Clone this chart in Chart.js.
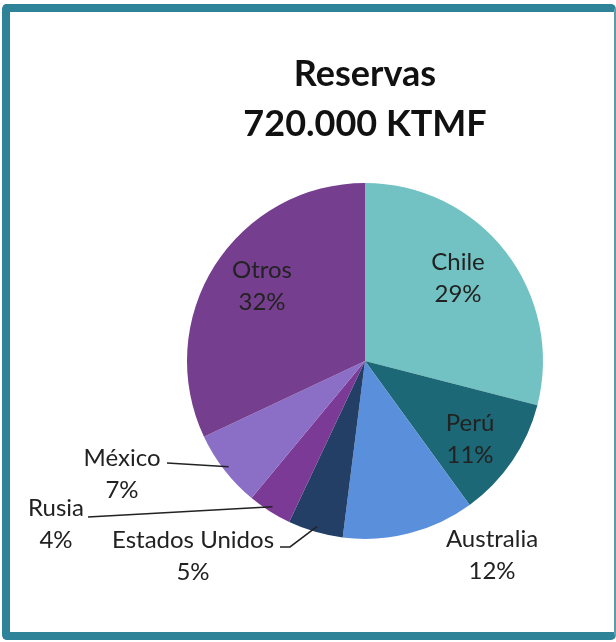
<!DOCTYPE html>
<html>
<head>
<meta charset="utf-8">
<script src="https://cdn.jsdelivr.net/npm/chart.js@4/dist/chart.umd.min.js"></script>
<style>
  html, body { margin: 0; padding: 0; background: #fff; overflow: hidden; }
  #wrap { position: relative; width: 616px; height: 642px; }
  #frame {
    position: absolute; left: 2px; top: 4px; width: 604px; height: 620px;
    border: 8px solid #2E8398; border-right: 2px solid #5E9AAB;
    border-radius: 5px; pointer-events: none;
  }
  canvas { position: absolute; left: 0; top: 0; }
</style>
</head>
<body>
<div id="wrap">
  <canvas id="myChart" width="616" height="642"></canvas>
  <div id="frame"></div>
</div>
<script>
var countries = ['Chile', 'Perú', 'Australia', 'Estados Unidos', 'Rusia', 'México', 'Otros'];
var shares = [29, 11, 12, 5, 4, 7, 32];
var colors = ['#72C2C3', '#1C6876', '#5A8FDC', '#233F66', '#7B3A96', '#8B6FC7', '#763E8E'];

// label centre (offset from pie centre) and optional leader line start / elbow
var labelSpots = [
  { at: [93, -83] },
  { at: [105, 78] },
  { at: [127, 194] },
  { at: [-172, 195], line: [[-85, 186], [-75, 186]] },
  { at: [-309, 163], line: [[-277, 156]] },
  { at: [-243, 113], line: [[-198, 102]] },
  { at: [-103, -75] }
];

var sliceLabels = {
  id: 'sliceLabels',
  afterDatasetsDraw: function (chart) {
    var c = chart.ctx;
    var arcs = chart.getDatasetMeta(0).data;
    var total = shares.reduce(function (a, b) { return a + b; }, 0);
    c.save();
    arcs.forEach(function (arc, i) {
      var p = arc.getProps(['x', 'y', 'startAngle', 'endAngle', 'outerRadius'], true);
      var spot = labelSpots[i];
      if (spot.line) {
        var mid = (p.startAngle + p.endAngle) / 2;
        var r = p.outerRadius * 0.97;
        c.beginPath();
        c.strokeStyle = '#222';
        c.lineWidth = 1.5;
        spot.line.forEach(function (pt, k) {
          if (k === 0) c.moveTo(p.x + pt[0], p.y + pt[1]);
          else c.lineTo(p.x + pt[0], p.y + pt[1]);
        });
        c.lineTo(p.x + Math.cos(mid) * r, p.y + Math.sin(mid) * r);
        c.stroke();
      }
      var pct = Math.round(shares[i] / total * 100) + '%';
      c.fillStyle = '#222';
      c.font = '24px Lato';
      c.textAlign = 'center';
      c.textBaseline = 'middle';
      var lx = p.x + spot.at[0], ly = p.y + spot.at[1];
      c.fillText(countries[i], lx, ly - 16);
      c.fillText(pct, lx, ly + 16);
    });
    c.restore();
  }
};

var ctx = document.getElementById('myChart').getContext('2d');
var myChart = new Chart(ctx, {
  type: 'pie',
  data: {
    labels: countries,
    datasets: [{
      data: shares,
      backgroundColor: colors,
      borderWidth: 0
    }]
  },
  options: {
    responsive: false,
    animation: false,
    events: [],
    layout: {
      padding: { left: 187, right: 73, top: 0, bottom: 103 }
    },
    plugins: {
      legend: { display: false },
      tooltip: { enabled: false },
      title: {
        display: true,
        text: ['Reservas', '720.000 KTMF'],
        color: '#111',
        font: { family: 'Lato', size: 36, weight: 'bold', lineHeight: 1.4 },
        padding: { top: 49, bottom: 33 }
      }
    }
  },
  plugins: [sliceLabels]
});
</script>
</body>
</html>
